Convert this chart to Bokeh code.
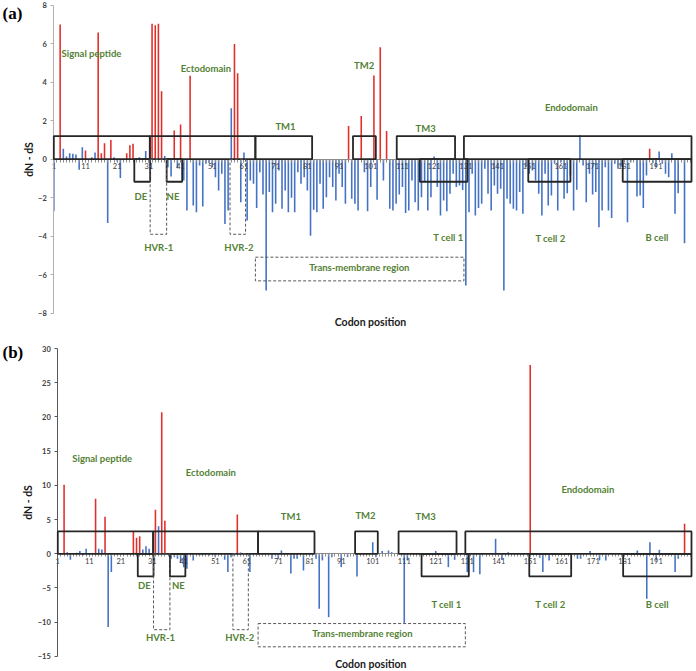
from bokeh.plotting import figure
from bokeh.layouts import column
from bokeh.models import ColumnDataSource, FixedTicker, Range1d
from bokeh.embed import file_html
from bokeh.resources import INLINE
from bokeh.core.properties import value

# ---------------- data ----------------
codons = list(range(1, 201))

dnds_a = [
    -2.7, 0.0, 7.0, 0.54, 0.14, 0.31, 0.28, 0.24, -0.55, 0.62,
    0.45, 0.0, 0.1, 0.35, 6.58, 0.31, 0.83, -3.31, 1.0, 0.1,
    -0.1, -0.97, 0.0, 0.31, 0.73, 0.8, 0.0, 0.1, 0.0, 0.42,
    0.0, 7.03, 6.96, 7.03, 3.53, 0.17, -0.42, -0.9, 1.49, -0.47,
    1.8, -1.1, -2.67, 4.33, -2.4, -2.75, -0.33, -2.46, -0.24, -0.2,
    -0.42, -0.94, -1.63, -0.76, -3.36, -2.67, 2.65, 5.99, 4.47, -2.23,
    0.35, -3.19, -1.1, -1.28, -2.53, -0.68, -1.84, -6.82, -1.71, -2.75,
    -2.32, -0.59, -2.58, -1.63, -2.75, -2.0, -2.75, -0.68, -1.28, -0.94,
    -1.63, -3.97, -2.63, -2.75, -1.28, -2.58, -1.97, -0.94, -1.45, -2.15,
    -0.76, -1.45, -2.32, 1.73, -2.06, -2.32, -2.67, 2.25, -0.68, -2.7,
    -1.45, 4.35, -2.11, 5.82, -1.1, 1.47, -2.58, -2.67, -2.32, -1.84,
    -1.45, -2.8, -2.67, -1.1, -2.23, -2.67, -1.97, -1.2, -2.67, -1.97,
    0.14, -1.45, -2.93, -2.15, -2.7, -1.8, -0.76, -1.45, -1.37, -1.6,
    -6.56, -2.75, -0.76, -2.93, -2.53, -2.32, -0.5, -1.8, -2.67, -1.37,
    -1.8, -1.54, -6.82, -2.06, -2.32, -2.58, -2.67, -1.71, -2.84, -0.42,
    -0.76, -0.59, -1.1, -1.8, -2.93, -0.76, -2.4, -1.89, -0.24, -2.67,
    -0.16, -2.06, -1.77, -0.85, -2.67, -1.59, 1.26, -0.33, -2.23, -0.76,
    -1.84, -1.71, -3.53, -2.67, -0.42, -2.67, -3.05, -0.24, -0.5, -0.38,
    -0.07, -3.27, -0.16, -0.05, -1.94, -1.89, -2.53, -0.85, 0.54, -0.2,
    -0.42, 0.4, -0.24, -0.76, -0.94, 0.31, -2.84, -1.77, 0.0, -4.36,
]
red_a = [3, 11, 15, 16, 17, 19, 24, 25, 26, 32, 33, 34, 35, 39, 41, 44,
         58, 59, 94, 98, 102, 104, 106, 189]

dnds_b = [
    0.0, 0.0, 10.1, 0.24, -0.88, 0.0, 0.15, 0.4, -0.2, 0.73,
    0.1, 0.0, 8.04, 0.73, 0.63, 5.4, -10.7, -2.68, 0.0, 0.1,
    0.0, 0.1, 0.0, 0.1, 3.27, 2.34, 2.58, 0.63, 1.12, 0.73,
    0.0, 6.43, 4.04, 20.7, 4.82, 0.0, -0.73, -0.49, -0.73, -1.36,
    -1.95, -2.19, 0.0, -0.97, 0.0, -0.24, -0.24, 0.0, -0.24, 0.1,
    -0.49, 0.0, 0.1, -0.88, -2.68, -0.49, 0.0, 5.75, 0.2, 0.0,
    0.1, -2.68, 0.0, 0.1, 0.0, 0.1, 0.0, 0.1, -0.73, 0.0,
    -0.73, 0.49, 0.0, 0.1, -2.9, -0.73, -0.73, 0.0, -2.44, 0.0,
    0.1, 0.0, -0.73, -8.04, -0.97, 0.0, -9.26, -0.49, 0.0, 0.1,
    -1.95, 0.0, -0.49, 0.1, 0.0, -3.31, 0.0, 0.1, 0.0, 0.1,
    1.7, -0.49, 0.1, 0.39, 0.0, 0.49, 0.24, 0.0, 0.1, 0.0,
    -10.1, -0.97, 0.0, 0.1, 0.0, 0.1, 0.0, 0.1, 0.0, 0.1,
    0.4, 0.0, 0.1, 0.0, -1.95, 0.0, -0.88, 0.0, 0.1, 0.0,
    -2.68, 0.0, -2.68, 0.0, -3.0, 0.0, 0.1, 0.0, 0.1, 2.19,
    0.0, -0.88, 0.0, 0.24, 0.0, 0.1, 0.0, 0.1, 0.0, 0.1,
    27.6, 0.0, 0.1, -0.58, -2.68, 0.0, -0.97, 0.0, 0.1, 0.0,
    0.1, 0.0, 0.1, 0.0, 0.1, -0.73, -0.73, 0.0, 0.1, 0.39,
    0.0, 0.1, -0.97, 0.0, -0.97, 0.0, 0.1, 0.0, 0.1, 0.0,
    0.1, 0.0, 0.1, 0.0, 0.49, 0.0, 0.1, -6.58, 1.7, 0.0,
    -0.97, 0.58, 0.0, 0.1, 0.0, 0.1, -2.68, -0.73, 0.0, 4.39,
]
red_b = [3, 13, 16, 25, 26, 27, 32, 34, 35, 58, 151, 200]

x_tick_values = list(range(1, 192, 10))
y_ticks_a = [-8, -6, -4, -2, 0, 2, 4, 6, 8]
y_ticks_b = [-15, -10, -5, 0, 5, 10, 15, 20, 25, 30]

# protein regions (codon spans)
upper_regions = ["Signal peptide", "Ectodomain", "TM1", "TM2", "TM3", "Endodomain"]
upper_start = [1, 31.3, 64.6, 95.4, 109.2, 130.4]
upper_end = [31.3, 64.6, 82.5, 102.6, 127.6, 202.2]
lower_regions = ["DE", "NE", "T cell 1", "T cell 2", "B cell"]
lower_start = [26.4, 36.6, 116.5, 150.7, 180.5]
lower_end = [31.4, 41.5, 131.5, 164.0, 202.2]
dashed_regions = ["HVR-1", "HVR-2", "Trans-membrane region"]
dashed_start = [31.4, 56.6, 64.6]
dashed_end = [36.6, 61.5, 130.4]

label_text = ["Signal peptide", "Ectodomain", "TM1", "TM2", "TM3", "Endodomain",
              "DE", "NE", "HVR-1", "HVR-2", "T cell 1", "Trans-membrane region",
              "T cell 2", "B cell"]
label_x_a = [12.9, 49.0, 74.1, 98.9, 118.3, 164.3, 28.5, 38.6, 34.1, 59.4, 125.5, 97.4, 157.7, 191.3]
label_y_a = [5.5, 4.7, 1.7, 4.87, 1.6, 2.7, -1.92, -1.92, -4.59, -4.59, -4.08, -5.61, -4.14, -4.05]
label_x_b = [15.1, 49.6, 75.0, 98.7, 117.8, 169.3, 28.5, 39.3, 33.6, 58.8, 124.4, 97.7, 157.4, 191.3]
label_y_b = [14.0, 11.9, 5.5, 5.6, 5.4, 9.35, -4.68, -4.68, -12.2, -12.2, -7.4, -11.7, -7.45, -7.45]

RED = "#e0302c"
BLUE = "#4472c4"
GREEN = "#548235"
FONT = "Lato"


def make_panel(vals, reds, yticks, xr, yr, ybounds, box_h_up, box_h_low, dash_low,
               tm_box, lx, ly, tag, tag_xy, xlabel_xy, height, yaxis_color):
    p = figure(width=696, height=height, x_range=Range1d(*xr), y_range=Range1d(*yr),
               output_backend="svg", toolbar_location=None,
               min_border_left=0, min_border_right=0,
               min_border_top=0, min_border_bottom=0)
    p.outline_line_color = None
    p.grid.visible = False

    colors = [RED if c in reds else BLUE for c in codons]
    src = ColumnDataSource(dict(x=codons, top=vals, color=colors))
    p.vbar(x="x", top="top", bottom=0, width=0.5, fill_color="color",
           line_color=None, source=src)

    # solid region boxes
    p.quad(left=upper_start, right=upper_end, bottom=[0] * len(upper_start),
           top=[box_h_up] * len(upper_start), fill_color=None,
           line_color="#262626", line_width=1.8, level="overlay")
    p.quad(left=lower_start, right=lower_end, bottom=[box_h_low] * len(lower_start),
           top=[0] * len(lower_start), fill_color=None,
           line_color="#262626", line_width=1.8, level="overlay")
    # dashed region boxes
    p.quad(left=dashed_start, right=dashed_end,
           bottom=[dash_low, dash_low, tm_box[0]], top=[0, 0, tm_box[1]],
           fill_color=None, line_color="#595959", line_width=1,
           line_dash="3 2", level="overlay")

    p.text(x=lx, y=ly, text=label_text, text_font=value(FONT),
           text_font_style="bold", text_font_size="9.5px", text_color=GREEN,
           text_align="center", text_baseline="middle")

    # panel tag and x title
    p.text(x=[tag_xy[0]], y=[tag_xy[1]], text=[tag], text_font=value("Liberation Serif"),
           text_font_style="bold", text_font_size="17px", text_color="black",
           text_align="left", text_baseline="top")
    p.text(x=[xlabel_xy[0]], y=[xlabel_xy[1]], text=["Codon position"],
           text_font=value(FONT), text_font_style="bold", text_font_size="10.5px",
           text_color="#1a1a1a", text_align="center", text_baseline="middle")

    # x axis through zero
    xa = p.xaxis[0]
    xa.fixed_location = 0
    xa.bounds = (1, 202.2)
    xa.ticker = FixedTicker(ticks=x_tick_values, minor_ticks=codons + [201, 202])
    xa.axis_line_color = "#8c8c8c"
    xa.major_tick_line_color = "#8c8c8c"
    xa.minor_tick_line_color = "#8c8c8c"
    xa.major_tick_in = 0
    xa.major_tick_out = 3
    xa.minor_tick_in = 0
    xa.minor_tick_out = 3
    xa.major_label_text_font = FONT
    xa.major_label_text_font_size = "7.5px"
    xa.major_label_text_color = "#404040"
    xa.major_label_standoff = 1

    ya = p.yaxis[0]
    ya.fixed_location = 1
    ya.bounds = ybounds
    ya.ticker = FixedTicker(ticks=yticks)
    ya.axis_line_color = yaxis_color
    ya.major_tick_line_color = yaxis_color
    ya.minor_tick_line_color = None
    ya.major_tick_in = 0
    ya.major_tick_out = 3
    ya.major_label_text_font = FONT
    ya.major_label_text_font_style = "bold"
    ya.major_label_text_font_size = "7.5px"
    ya.major_label_text_color = "#404040"
    ya.major_label_standoff = 4
    ya.axis_label = "dN - dS"
    ya.axis_label_text_font = FONT
    ya.axis_label_text_font_style = "bold"
    ya.axis_label_text_font_size = "10.5px"
    ya.axis_label_text_color = "#1a1a1a"
    ya.axis_label_standoff = 0
    return p


p1 = make_panel(dnds_a, red_a, y_ticks_a, (-15.82, 203.78), (-9.158, 8.244), (-8, 8),
                1.2, -1.17, -3.9, (-6.32, -5.09), label_x_a, label_y_a,
                "(a)", (-15.19, 8.04), (100.9, -8.48), 335, "#b0b0b0")
p2 = make_panel(dnds_b, red_b, y_ticks_b, (-17.19, 203.79), (-17.21, 31.915), (-15, 30),
                3.27, -3.31, -11.1, (-13.6, -10.2), label_x_b, label_y_b,
                "(b)", (-16.56, 30.75), (100.4, -16.18), 336, "#595959")

layout = column(p1, p2)
open("out.html", "w").write(file_html(layout, INLINE))
